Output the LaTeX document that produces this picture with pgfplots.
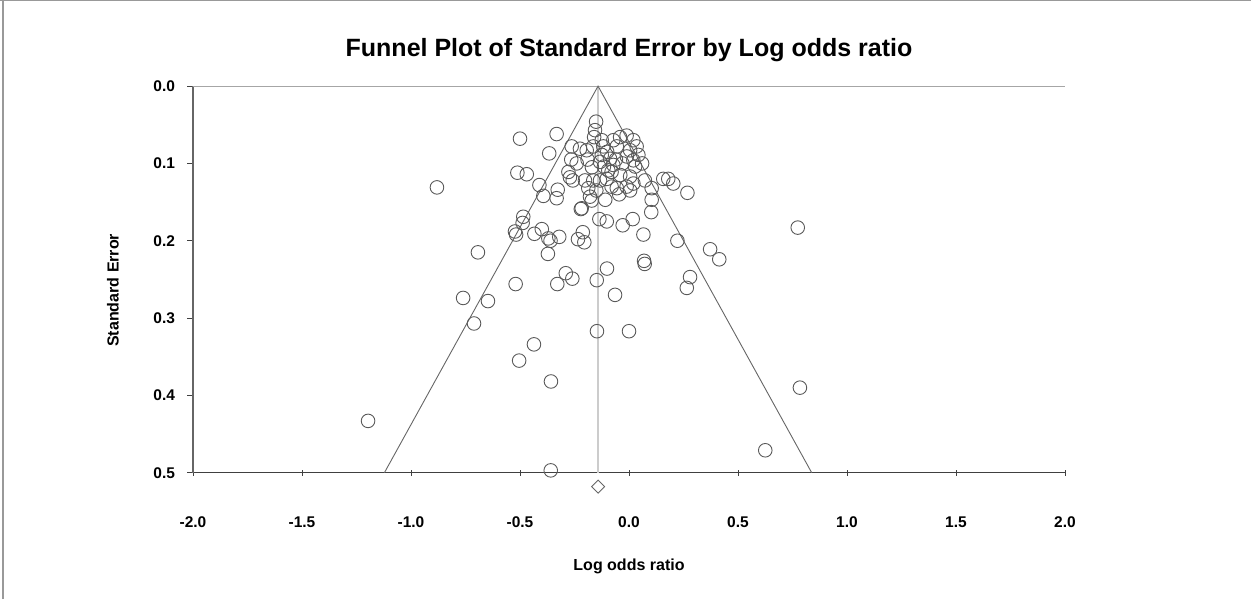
\documentclass[border=0pt]{standalone}
\usepackage{fontspec}
\setmainfont{Liberation Sans}
\usepackage{pgfplots}
\pgfplotsset{compat=1.18}
\begin{document}
\begin{tikzpicture}
\useasboundingbox (0,0) rectangle (625.5pt,299.5pt);
\draw[black!40, line width=0.6pt] (0,299.2pt) -- (625.5pt,299.2pt);
\draw[black!40, line width=0.6pt] (1.5pt,0) -- (1.5pt,299.5pt);
\begin{axis}[
  at={(96.5pt,63.15pt)}, anchor=south west,
  scale only axis, width=436pt, height=193.3pt,
  xmin=-2, xmax=2, ymin=0, ymax=0.5, y dir=reverse,
  axis x line*=bottom, axis y line*=left,
  x axis line style={black!75, line width=0.7pt},
  y axis line style={black!60, line width=0.7pt},
  xtick={-2,-1.5,-1,-0.5,0,0.5,1,1.5,2},
  ytick={0,0.1,0.2,0.3,0.4,0.5},
  tick align=center, major tick length=3pt,
  x tick style={black!75, line width=0.5pt},
  y tick style={black!75, line width=0.5pt, xshift=-1.5pt},
  /pgf/number format/assume math mode=true,
  /pgf/number format/.cd, fixed, fixed zerofill, precision=1, /pgfplots/.cd,
  tick label style={font=\fontsize{7.75}{9}\selectfont\bfseries},
  xticklabel style={yshift=-17pt},
  yticklabel style={xshift=-4pt},
  title={Funnel Plot of Standard Error by Log odds ratio},
  title style={font=\fontsize{12.5}{14}\selectfont\bfseries, at={(axis description cs:0.5,1)}, anchor=center, yshift=12pt},
  xlabel={Log odds ratio},
  ylabel={Standard Error},
  every axis x label/.style={font=\fontsize{8}{10}\selectfont\bfseries, at={(axis description cs:0.5,0)}, anchor=center, yshift=-47pt},
  every axis y label/.style={font=\fontsize{8}{10}\selectfont\bfseries, at={(axis description cs:0,0.472)}, rotate=90, anchor=center, yshift=40pt},
  clip=false,
]
\draw[black!35, line width=0.6pt] (axis cs:-2,0) -- (axis cs:2,0);
\addplot[black!20, line width=0.6pt] coordinates {(-0.142,0) (-0.142,0.5)};
\addplot[black!60, line width=0.45pt] coordinates {(-1.122,0.5) (-0.142,0) (0.838,0.5)};
\addplot[only marks, mark=o, mark size=3.4pt, mark options={black!65, line width=0.45pt}] coordinates {
(-1.197,0.433) (-0.881,0.131) (-0.693,0.215) (-0.761,0.274) (-0.647,0.278)
(-0.711,0.307) (-0.520,0.256) (-0.504,0.355) (-0.436,0.334) (-0.358,0.382)
(-0.359,0.497) (-0.147,0.317) (0.000,0.317) (0.774,0.183) (0.372,0.211)
(0.414,0.224) (0.784,0.390) (0.625,0.471) (-0.329,0.256) (-0.290,0.242)
(-0.260,0.249) (-0.148,0.251) (-0.101,0.236) (-0.064,0.270) (0.069,0.226)
(0.072,0.230) (0.280,0.247) (0.265,0.261) (0.222,0.200) (0.066,0.192)
(-0.029,0.180) (0.017,0.172) (-0.136,0.172) (-0.102,0.175) (-0.372,0.217)
(-0.212,0.189) (-0.205,0.202) (-0.234,0.198) (-0.320,0.195) (-0.370,0.197)
(-0.360,0.200) (-0.400,0.185) (-0.434,0.191) (-0.523,0.188) (-0.518,0.192)
(-0.485,0.169) (-0.488,0.177) (-0.221,0.159) (-0.109,0.147) (0.102,0.163)
(0.104,0.147) (0.268,0.138) (0.157,0.120) (0.180,0.120) (0.203,0.126)
(0.104,0.132) (0.073,0.122) (-0.500,0.068) (-0.332,0.062) (-0.366,0.087)
(-0.512,0.112) (-0.469,0.114) (-0.393,0.142) (-0.327,0.134) (-0.332,0.145)
(-0.411,0.128)
(-0.151,0.046) (-0.156,0.057) (-0.160,0.066) (-0.263,0.078) (-0.225,0.081)
(-0.194,0.083) (-0.278,0.111) (-0.271,0.118) (-0.258,0.122) (-0.202,0.122)
(-0.187,0.132) (-0.179,0.143) (-0.171,0.148) (-0.217,0.158) (-0.041,0.066)
(-0.011,0.064) (0.020,0.070) (0.035,0.078) (0.005,0.083) (-0.010,0.091)
(0.020,0.096) (0.043,0.089) (0.028,0.104) (0.005,0.117) (-0.011,0.130)
(0.005,0.135) (0.020,0.126) (-0.125,0.070) (-0.118,0.078) (-0.125,0.089)
(-0.133,0.098) (-0.115,0.104) (-0.095,0.109) (-0.080,0.111) (-0.072,0.102)
(-0.087,0.094) (-0.056,0.078) (-0.072,0.070) (-0.102,0.120) (-0.133,0.122)
(-0.164,0.122) (-0.056,0.132) (-0.164,0.078) (-0.080,0.130) (-0.150,0.135)
(-0.030,0.100) (-0.040,0.115) (-0.240,0.100) (-0.265,0.095) (-0.170,0.105)
(-0.060,0.095) (0.060,0.100) (-0.190,0.095) (-0.100,0.085) (-0.045,0.140)
};
\addplot[only marks, mark=square, mark size=2.3pt, mark options={rotate=45, black!60, line width=0.45pt}] coordinates {(-0.142,0.518)};
\end{axis}
\end{tikzpicture}
\end{document}
